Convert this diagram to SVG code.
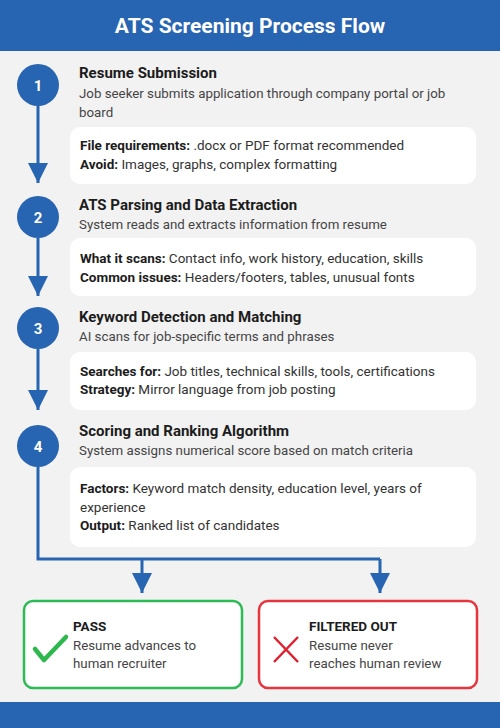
<svg xmlns="http://www.w3.org/2000/svg" width="500" height="728" viewBox="0 0 500 728">
<defs>
<marker id="ah" markerUnits="userSpaceOnUse" markerWidth="22" markerHeight="20" refX="20" refY="10" orient="auto" viewBox="0 0 20 20">
<path d="M0,0 L20,10 L0,20 Z" fill="#2764b2"/>
</marker>
<style>
.bg{fill:#f2f2f2}
.band{fill:#2764b2}
.hdr{font-family:Roboto,"Liberation Sans",sans-serif;font-weight:700;font-size:21px;fill:#ffffff}
.num{font-family:Roboto,"Liberation Sans",sans-serif;font-weight:700;font-size:15px;fill:#ffffff}
.circ{fill:#2764b2}
.ttl{font-family:Roboto,"Liberation Sans",sans-serif;font-weight:700;font-size:15px;fill:#1c1c1c}
.dsc{font-family:Roboto,"Liberation Sans",sans-serif;font-size:13.3px;fill:#454545}
.card{fill:#ffffff}
.lbl{font-family:Roboto,"Liberation Sans",sans-serif;font-weight:700;fill:#1c1c1c}
.det{font-family:Roboto,"Liberation Sans",sans-serif;font-size:13.5px;fill:#333333}
.conn{fill:none;stroke:#2764b2;stroke-width:3}
.res{fill:#ffffff;stroke-width:2.5}
</style>
</defs>
<rect class="bg" x="0" y="0" width="500" height="728"/>
<rect class="band" x="0" y="0" width="500" height="51"/>
<text class="hdr" x="250" y="33" text-anchor="middle">ATS Screening Process Flow</text>
<rect class="band" x="0" y="702" width="500" height="26"/>

<g id="connectors">
<path class="conn" d="M38,106 L38,183" marker-end="url(#ah)"/>
<path class="conn" d="M38,238 L38,296" marker-end="url(#ah)"/>
<path class="conn" d="M38,349 L38,410" marker-end="url(#ah)"/>
<path class="conn" d="M38,467 L38,559 L380,559"/>
<path class="conn" d="M142,559 L142,593" marker-end="url(#ah)"/>
<path class="conn" d="M380,559 L380,593" marker-end="url(#ah)"/>
</g>

<g id="step1">
<circle class="circ" cx="38" cy="85" r="21"/>
<text class="num" x="38" y="90.5" text-anchor="middle">1</text>
<text class="ttl" x="79" y="78">Resume Submission</text>
<text class="dsc" x="79" y="98">Job seeker submits application through company portal or job</text>
<text class="dsc" x="79" y="117">board</text>
<rect class="card" x="70" y="127" width="406" height="57" rx="10"/>
<text class="det" x="80" y="150"><tspan class="lbl">File requirements:</tspan> .docx or PDF format recommended</text>
<text class="det" x="80" y="169"><tspan class="lbl">Avoid:</tspan> Images, graphs, complex formatting</text>
</g>

<g id="step2">
<circle class="circ" cx="38" cy="217" r="21"/>
<text class="num" x="38" y="222.5" text-anchor="middle">2</text>
<text class="ttl" x="79" y="210">ATS Parsing and Data Extraction</text>
<text class="dsc" x="79" y="229">System reads and extracts information from resume</text>
<rect class="card" x="70" y="238" width="406" height="58" rx="10"/>
<text class="det" x="80" y="263"><tspan class="lbl">What it scans:</tspan> Contact info, work history, education, skills</text>
<text class="det" x="80" y="282"><tspan class="lbl">Common issues:</tspan> Headers/footers, tables, unusual fonts</text>
</g>

<g id="step3">
<circle class="circ" cx="38" cy="328" r="21"/>
<text class="num" x="38" y="333.5" text-anchor="middle">3</text>
<text class="ttl" x="79" y="322">Keyword Detection and Matching</text>
<text class="dsc" x="79" y="341">AI scans for job-specific terms and phrases</text>
<rect class="card" x="70" y="352" width="406" height="58" rx="10"/>
<text class="det" x="80" y="376"><tspan class="lbl">Searches for:</tspan> Job titles, technical skills, tools, certifications</text>
<text class="det" x="80" y="394"><tspan class="lbl">Strategy:</tspan> Mirror language from job posting</text>
</g>

<g id="step4">
<circle class="circ" cx="38" cy="446" r="21"/>
<text class="num" x="38" y="451.5" text-anchor="middle">4</text>
<text class="ttl" x="79" y="436">Scoring and Ranking Algorithm</text>
<text class="dsc" x="79" y="455">System assigns numerical score based on match criteria</text>
<rect class="card" x="70" y="467" width="406" height="80" rx="10"/>
<text class="det" x="80" y="493"><tspan class="lbl">Factors:</tspan> Keyword match density, education level, years of</text>
<text class="det" x="80" y="512">experience</text>
<text class="det" x="80" y="530"><tspan class="lbl">Output:</tspan> Ranked list of candidates</text>
</g>

<g id="pass">
<rect class="res" x="24" y="601" width="218" height="87" rx="9" stroke="#2dbb55"/>
<path d="M35,649 L44,660 L66,637" fill="none" stroke="#2db84d" stroke-width="4.5" stroke-linecap="round" stroke-linejoin="round"/>
<text class="ttl" x="73" y="631" style="font-size:13.5px">PASS</text>
<text class="dsc" x="73" y="650">Resume advances to</text>
<text class="dsc" x="73" y="668">human recruiter</text>
</g>

<g id="filtered">
<rect class="res" x="259" y="601" width="218" height="87" rx="9" stroke="#e8343e"/>
<path d="M274,637 L298,662 M298,637 L274,662" fill="none" stroke="#e0202e" stroke-width="2.5"/>
<text class="ttl" x="309" y="631" style="font-size:13.5px">FILTERED OUT</text>
<text class="dsc" x="309" y="650">Resume never</text>
<text class="dsc" x="309" y="668">reaches human review</text>
</g>
</svg>
